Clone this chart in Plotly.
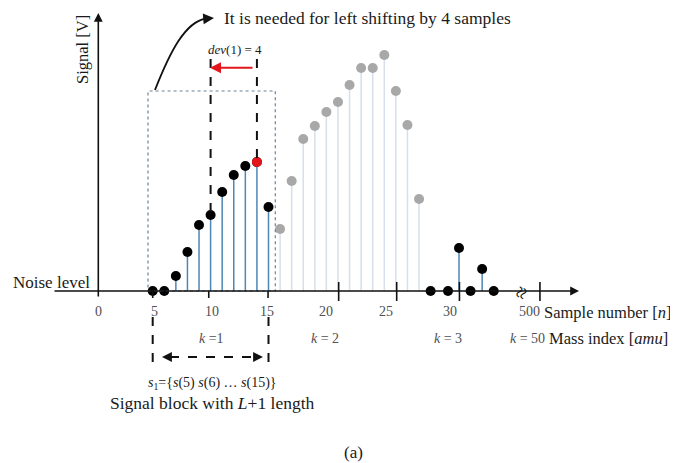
import plotly.graph_objects as go

# ---------------- data (sample number, signal value) ----------------
blk1_n = [5, 6, 7, 8, 9, 10, 11, 12, 13, 14, 15]
blk1_v = [0.0, 0.0, 1.5, 3.9, 6.6, 7.6, 9.9, 11.6, 12.5, 12.9, 8.4]
peak_n = [14]
peak_v = [12.9]
gray_n = [16, 17, 18, 19, 20, 21, 22, 23, 24, 25, 26, 27, 28]
gray_v = [6.2, 11.0, 15.2, 16.5, 17.9, 18.9, 20.6, 22.3, 22.3, 23.6, 20.0, 16.6, 9.2]
blk3_n = [29.0, 30.5, 31.45, 32.45, 33.45, 34.45]
blk3_v = [0.0, 0.0, 4.3, 0.0, 2.2, 0.0]

tick_pos = [0.3, 5.0, 9.84, 14.96, 21.06, 26.07, 31.49, 38.44]
tick_lbl_pos = [0.3, 5.13, 10.1, 14.84, 19.94, 25.15, 30.68, 37.5]
tick_labels = ["0", "5", "10", "15", "20", "25", "30", "500"]
k_pos = [10.1, 19.9, 30.5, 37.4]
k_labels = ["<i>k</i> =1", "<i>k</i> = 2", "<i>k</i> = 3", "<i>k</i> = 50"]

# ---------------- drawing-space helpers (for decorations only) ----------------
X0, SX, Y0, SY = 94.8, 11.58, 291.0, 10.0
OFF = 8  # page body margin
def px(x):
    return (x - X0) / SX
def py(y):
    return (Y0 - y) / SY

FONT = "Liberation Serif, Times New Roman, serif"

def stems(ns, vs):
    xs, ys = [], []
    for n, v in zip(ns, vs):
        xs += [n, n, None]
        ys += [0, v, None]
    return xs, ys

fig = go.Figure()

sx, sy = stems(gray_n, gray_v)
fig.add_trace(go.Scatter(x=sx, y=sy, mode="lines", line=dict(color="#d5e0ea", width=1.5),
                         hoverinfo="skip", showlegend=False))
sx, sy = stems(blk1_n + blk3_n, blk1_v + blk3_v)
fig.add_trace(go.Scatter(x=sx, y=sy, mode="lines", line=dict(color="#4f86b4", width=1.5),
                         hoverinfo="skip", showlegend=False))

# axes (drawn as annotations with arrows)
fig.add_annotation(x=px(579), y=py(291), ax=px(53), ay=py(291), xref="x", yref="y",
                   axref="x", ayref="y", text="", showarrow=True, arrowhead=2,
                   arrowsize=1.1, arrowwidth=1.6, arrowcolor="#111")
fig.add_annotation(x=px(98.3), y=py(13), ax=px(98.3), ay=py(298), xref="x", yref="y",
                   axref="x", ayref="y", text="", showarrow=True, arrowhead=2,
                   arrowsize=1.1, arrowwidth=1.6, arrowcolor="#111")

# tick marks
shapes = []
for i, t in enumerate(tick_pos[1:]):
    if i < 3:
        y_a, y_b = 291, 298
    else:
        y_a, y_b = 282, 301
    shapes.append(dict(type="line", x0=t, x1=t, y0=py(y_a), y1=py(y_b),
                       line=dict(color="#111", width=1.6)))

# dotted box
shapes.append(dict(type="rect", x0=px(148), x1=px(275.3), y0=py(291), y1=py(91),
                   line=dict(color="#6b8496", width=1.2, dash="dot")))
# dashed verticals (top)
shapes.append(dict(type="line", x0=10, x1=10, y0=py(59), y1=7.6,
                   line=dict(color="#111", width=2, dash="dash")))
shapes.append(dict(type="line", x0=14, x1=14, y0=py(59), y1=12.9,
                   line=dict(color="#111", width=2, dash="dash")))
# dashed verticals (bottom)
shapes.append(dict(type="line", x0=5, x1=5, y0=py(317), y1=py(363),
                   line=dict(color="#111", width=2, dash="dash")))
shapes.append(dict(type="line", x0=15, x1=15, y0=py(317), y1=py(363),
                   line=dict(color="#111", width=2, dash="dash")))
# dashed double arrow shaft
shapes.append(dict(type="line", x0=px(170), x1=px(255), y0=py(357), y1=py(357),
                   line=dict(color="#111", width=1.8, dash="dash")))
# curved arrow
def P(x, y):
    return f"{px(x)},{py(y)}"
shapes.append(dict(type="path", path=f"M {P(155,90)} C {P(170,52)} {P(185,22)} {P(206,18.5)}",
                   line=dict(color="#111", width=1.8)))
fig.update_layout(shapes=shapes)

# data markers
fig.add_trace(go.Scatter(x=gray_n, y=gray_v, mode="markers",
                         marker=dict(color="#a8a8a8", size=10), hoverinfo="skip", showlegend=False))
fig.add_trace(go.Scatter(x=blk1_n + blk3_n, y=blk1_v + blk3_v, mode="markers",
                         marker=dict(color="#000", size=10), hoverinfo="skip", showlegend=False))
fig.add_trace(go.Scatter(x=peak_n, y=peak_v, mode="markers",
                         marker=dict(color="#e3161c", size=10), hoverinfo="skip", showlegend=False))

# arrow heads
fig.add_annotation(x=px(214), y=py(18), ax=px(204), ay=py(18.8), xref="x", yref="y",
                   axref="x", ayref="y", text="", showarrow=True, arrowhead=2,
                   arrowsize=1.2, arrowwidth=1.8, arrowcolor="#111")
fig.add_annotation(x=px(210), y=py(67.7), ax=px(254), ay=py(67.7), xref="x", yref="y",
                   axref="x", ayref="y", text="", showarrow=True, arrowhead=2,
                   arrowsize=1.1, arrowwidth=2, arrowcolor="#e3161c")
fig.add_annotation(x=px(162), y=py(357), ax=px(172), ay=py(357), xref="x", yref="y",
                   axref="x", ayref="y", text="", showarrow=True, arrowhead=2,
                   arrowsize=1.1, arrowwidth=1.8, arrowcolor="#111")
fig.add_annotation(x=px(263), y=py(357), ax=px(253), ay=py(357), xref="x", yref="y",
                   axref="x", ayref="y", text="", showarrow=True, arrowhead=2,
                   arrowsize=1.1, arrowwidth=1.8, arrowcolor="#111")

def txt(x, y, s, size=17, xanchor="center", color="#1a1a1a", angle=0):
    fig.add_annotation(x=px(x), y=py(y), text=s, showarrow=False, xanchor=xanchor,
                       yanchor="middle", textangle=angle, borderpad=0,
                       font=dict(family=FONT, size=size, color=color))

# tick labels
for p, l in zip(tick_lbl_pos, tick_labels):
    fig.add_annotation(x=p, y=py(311), text=l, showarrow=False, xanchor="center",
                       yanchor="middle", font=dict(family=FONT, size=14, color="#505050"))
for p, l in zip(k_pos, k_labels):
    fig.add_annotation(x=p, y=py(338), text=l, showarrow=False, xanchor="center",
                       yanchor="middle", font=dict(family=FONT, size=14, color="#505050"))

# axis break symbol
txt(520.5, 293, "≈", size=22, color="#111", angle=-65)

txt(223, 18, "It is needed for left shifting by 4 samples", size=17.5, xanchor="left")
txt(235, 49, "<i>dev</i>(1) = 4", size=13)
txt(82, 50, "Signal [V]", size=16.5, angle=-90)
txt(51, 282, "Noise level", size=17)
txt(543, 312, "Sample number [<i>n</i>]", size=16.5, xanchor="left")
txt(548, 338, "Mass index [<i>amu</i>]", size=16.5, xanchor="left")
txt(212, 383, "<i>s</i><sub>1</sub>={<i>s</i>(5) <i>s</i>(6) … <i>s</i>(15)}", size=14)
txt(212, 403, "Signal block with <i>L</i>+1 length", size=17.5)
txt(353, 452, "(a)", size=17)

fig.update_layout(
    width=678 - OFF, height=463 - OFF,
    margin=dict(l=0, r=0, t=0, b=0),
    paper_bgcolor="white", plot_bgcolor="white",
    xaxis=dict(range=[px(OFF), px(678)], visible=False, fixedrange=True),
    yaxis=dict(range=[py(463), py(OFF)], visible=False, fixedrange=True),
    showlegend=False,
)

fig.write_html("out.html")
